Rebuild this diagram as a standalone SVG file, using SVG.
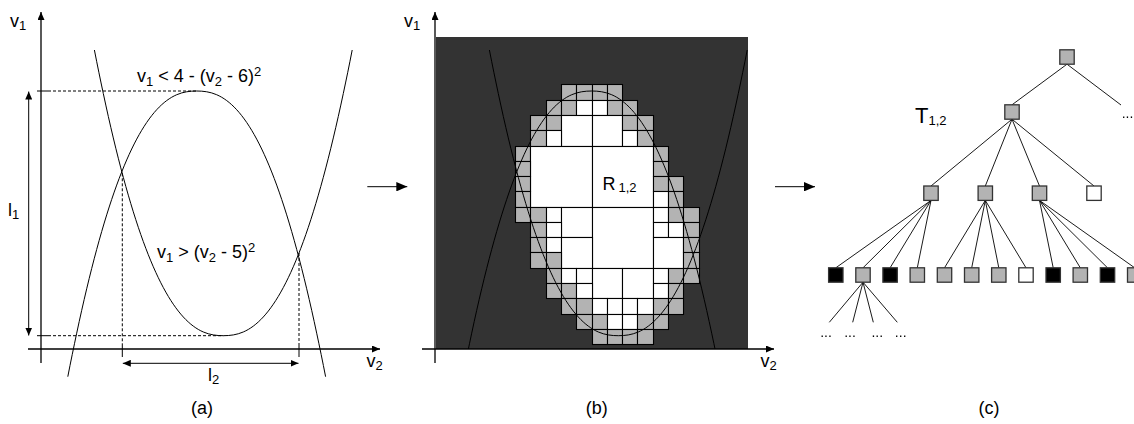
<svg xmlns="http://www.w3.org/2000/svg" width="1134" height="424" viewBox="0 0 1134 424">
<style>
text{font-family:"Liberation Sans",Arial,sans-serif;fill:#000}
.t{font-size:18px}
.sub{font-size:13px}
.cap{font-size:18px;text-anchor:middle}
.dots{font-size:14px;text-anchor:middle}
.ax{stroke:#000;stroke-width:1.3;fill:none}
.cv{stroke:#000;stroke-width:1;fill:none}
.dash{stroke:#000;stroke-width:1;stroke-dasharray:3 2;fill:none}
.ln{stroke:#000;stroke-width:1;fill:none}
.cell{stroke:#000;stroke-width:1.1}
.g{fill:#b3b3b3}
.w{fill:#fff}
.nd{stroke:#333;stroke-width:1.3}
.ng{fill:#b3b3b3}
.nb{fill:#000}
.nw{fill:#fff}
.edge{stroke:#000;stroke-width:0.9;fill:none}
</style>
<defs>
<marker id="ah" viewBox="0 0 8 7" refX="8" refY="3.5" markerWidth="8" markerHeight="7" markerUnits="userSpaceOnUse" orient="auto-start-reverse"><path d="M0,0 L8,3.5 L0,7 z" fill="#000"/></marker>
<marker id="ahb" viewBox="0 0 11 9.4" refX="11" refY="4.7" markerWidth="11" markerHeight="9.4" markerUnits="userSpaceOnUse" orient="auto"><path d="M0,0 L11,4.7 L0,9.4 z" fill="#000"/></marker>
<path id="par" d="M-128.9,285.7 C-125.933,270.38 -122.967,256.153 -120,242.2 C-113.333,210.847 -106.667,183.007 -100,158.4 C-93.333,133.793 -86.667,112.373 -80,94.1 C-73.333,75.827 -66.667,60.6 -60,48.14 C-53.333,35.68 -46.667,25.987 -40,18.72 C-33.333,11.453 -26.667,6.607 -20,3.72 C-13.333,0.833 -6.667,0 0,0 C6.667,0 13.333,0.833 20,3.72 C26.667,6.607 33.333,11.453 40,18.72 C46.667,25.987 53.333,35.68 60,48.14 C66.667,60.6 73.333,75.827 80,94.1 C86.667,112.373 93.333,133.793 100,158.4 C106.667,183.007 113.333,210.847 120,242.2 C122.967,256.153 125.933,270.38 128.9,285.7"/>
<clipPath id="clipB"><rect x="436" y="37" width="312" height="312"/></clipPath>
<filter id="gs"><feColorMatrix type="saturate" values="0"/></filter>
</defs>

<!-- Panel (a) -->
<g id="panel-a">
  <g id="a-dashed">
    <line class="dash" x1="48" y1="91" x2="196.7" y2="91"/>
    <line class="dash" x1="48" y1="335.7" x2="223.3" y2="335.7"/>
    <line class="dash" x1="122.3" y1="173.3" x2="122.3" y2="346"/>
    <line class="dash" x1="299" y1="253" x2="299" y2="346"/>
  </g>
  <g id="a-ticks">
    <line class="ln" x1="37" y1="91" x2="48" y2="91"/>
    <line class="ln" x1="37" y1="335.7" x2="48" y2="335.7"/>
    <line class="ln" x1="122.3" y1="346" x2="122.3" y2="357"/>
    <line class="ln" x1="299" y1="346" x2="299" y2="357"/>
  </g>
  <g id="a-curves">
    <use href="#par" class="cv" transform="translate(196.7 91)"/>
    <use href="#par" class="cv" transform="translate(223.3 335.7) scale(1 -1)"/>
  </g>
  <g id="a-axes">
    <line class="ax" x1="41" y1="363" x2="41" y2="12" marker-end="url(#ah)"/>
    <line class="ax" x1="28" y1="349" x2="380" y2="349" marker-end="url(#ah)"/>
  </g>
  <g id="a-dims">
    <line class="ln" x1="28.7" y1="91.5" x2="28.7" y2="335.5" marker-start="url(#ah)" marker-end="url(#ah)"/>
    <line class="ln" x1="122.8" y1="363.3" x2="298.5" y2="363.3" marker-start="url(#ah)" marker-end="url(#ah)"/>
  </g>
  <g id="a-labels">
    <text class="t" x="10" y="27">v<tspan class="sub" dy="3">1</tspan></text>
    <text class="t" x="366.5" y="367">v<tspan class="sub" dy="3">2</tspan></text>
    <text class="t" x="8" y="216">l<tspan class="sub" dy="3">1</tspan></text>
    <text class="t" x="208" y="381">l<tspan class="sub" dy="3">2</tspan></text>
    <text class="t" x="137" y="82">v<tspan class="sub" dy="4">1</tspan><tspan dy="-4"> &lt; 4 - (v</tspan><tspan class="sub" dy="4">2</tspan><tspan dy="-4"> - 6)</tspan><tspan class="sub" dy="-6">2</tspan></text>
    <text class="t" x="157" y="258">v<tspan class="sub" dy="4">1</tspan><tspan dy="-4"> &gt; (v</tspan><tspan class="sub" dy="4">2</tspan><tspan dy="-4"> - 5)</tspan><tspan class="sub" dy="-6">2</tspan></text>
    <text class="cap" x="202" y="414">(a)</text>
  </g>
</g>

<!-- arrows between panels -->
<g id="connectors">
  <line class="ln" x1="367.3" y1="186.7" x2="407.3" y2="186.7" stroke-width="1.2" marker-end="url(#ahb)"/>
  <line class="ln" x1="775" y1="186.7" x2="815" y2="186.7" stroke-width="1.2" marker-end="url(#ahb)"/>
</g>

<!-- Panel (b) -->
<g id="panel-b">
  <rect id="b-bg" x="436" y="37" width="312" height="312" fill="#333"/>
  <g id="b-grid">
    <!-- row 0 -->
    <rect class="cell g" x="561.5" y="84.5" width="15" height="16"/>
    <rect class="cell g" x="576.5" y="84.5" width="16" height="16"/>
    <rect class="cell g" x="592.5" y="84.5" width="15" height="16"/>
    <rect class="cell g" x="607.5" y="84.5" width="15" height="16"/>
    <!-- row 1 -->
    <rect class="cell g" x="546.5" y="100.5" width="15" height="15"/>
    <rect class="cell g" x="561.5" y="100.5" width="15" height="15"/>
    <rect class="cell w" x="576.5" y="100.5" width="16" height="15"/>
    <rect class="cell w" x="592.5" y="100.5" width="15" height="15"/>
    <rect class="cell g" x="607.5" y="100.5" width="15" height="15"/>
    <rect class="cell g" x="622.5" y="100.5" width="15" height="15"/>
    <!-- row 2 -->
    <rect class="cell g" x="530.5" y="115.5" width="16" height="15"/>
    <rect class="cell g" x="546.5" y="115.5" width="15" height="15"/>
    <rect class="cell w" x="561.5" y="115.5" width="31" height="31"/>
    <rect class="cell w" x="592.5" y="115.5" width="30" height="31"/>
    <rect class="cell g" x="622.5" y="115.5" width="15" height="15"/>
    <rect class="cell g" x="637.5" y="115.5" width="16" height="15"/>
    <!-- row 3 -->
    <rect class="cell g" x="530.5" y="130.5" width="16" height="16"/>
    <rect class="cell w" x="546.5" y="130.5" width="15" height="16"/>
    <rect class="cell w" x="622.5" y="130.5" width="15" height="16"/>
    <rect class="cell g" x="637.5" y="130.5" width="16" height="16"/>
    <!-- row 4 -->
    <rect class="cell g" x="515.5" y="146.5" width="15" height="15"/>
    <rect class="cell w" x="530.5" y="146.5" width="62" height="61"/>
    <rect class="cell w" x="592.5" y="146.5" width="61" height="61"/>
    <rect class="cell g" x="653.5" y="146.5" width="15" height="15"/>
    <!-- row 5 -->
    <rect class="cell g" x="515.5" y="161.5" width="15" height="15"/>
    <rect class="cell g" x="653.5" y="161.5" width="15" height="15"/>
    <!-- row 6 -->
    <rect class="cell g" x="515.5" y="176.5" width="15" height="15"/>
    <rect class="cell g" x="653.5" y="176.5" width="15" height="15"/>
    <rect class="cell g" x="668.5" y="176.5" width="15" height="15"/>
    <!-- row 7 -->
    <rect class="cell g" x="515.5" y="191.5" width="15" height="16"/>
    <rect class="cell w" x="653.5" y="191.5" width="15" height="16"/>
    <rect class="cell g" x="668.5" y="191.5" width="15" height="16"/>
    <!-- row 8 -->
    <rect class="cell g" x="515.5" y="207.5" width="15" height="15"/>
    <rect class="cell g" x="530.5" y="207.5" width="16" height="15"/>
    <rect class="cell w" x="546.5" y="207.5" width="15" height="15"/>
    <rect class="cell w" x="561.5" y="207.5" width="31" height="30"/>
    <rect class="cell w" x="592.5" y="207.5" width="61" height="61"/>
    <rect class="cell w" x="653.5" y="207.5" width="15" height="15"/>
    <rect class="cell g" x="668.5" y="207.5" width="15" height="15"/>
    <rect class="cell g" x="683.5" y="207.5" width="16" height="15"/>
    <!-- row 9 -->
    <rect class="cell g" x="530.5" y="222.5" width="16" height="15"/>
    <rect class="cell w" x="546.5" y="222.5" width="15" height="15"/>
    <rect class="cell w" x="653.5" y="222.5" width="15" height="15"/>
    <rect class="cell w" x="668.5" y="222.5" width="15" height="15"/>
    <rect class="cell g" x="683.5" y="222.5" width="16" height="15"/>
    <!-- row 10 -->
    <rect class="cell g" x="530.5" y="237.5" width="16" height="15"/>
    <rect class="cell w" x="546.5" y="237.5" width="15" height="15"/>
    <rect class="cell w" x="561.5" y="237.5" width="31" height="31"/>
    <rect class="cell w" x="653.5" y="237.5" width="30" height="31"/>
    <rect class="cell g" x="683.5" y="237.5" width="16" height="15"/>
    <!-- row 11 -->
    <rect class="cell g" x="530.5" y="252.5" width="16" height="16"/>
    <rect class="cell g" x="546.5" y="252.5" width="15" height="16"/>
    <rect class="cell g" x="683.5" y="252.5" width="16" height="16"/>
    <!-- row 12 -->
    <rect class="cell g" x="546.5" y="268.5" width="15" height="15"/>
    <rect class="cell w" x="561.5" y="268.5" width="15" height="15"/>
    <rect class="cell w" x="576.5" y="268.5" width="16" height="15"/>
    <rect class="cell w" x="592.5" y="268.5" width="30" height="30"/>
    <rect class="cell w" x="622.5" y="268.5" width="31" height="30"/>
    <rect class="cell w" x="653.5" y="268.5" width="15" height="15"/>
    <rect class="cell g" x="668.5" y="268.5" width="15" height="15"/>
    <rect class="cell g" x="683.5" y="268.5" width="16" height="15"/>
    <!-- row 13 -->
    <rect class="cell g" x="546.5" y="283.5" width="15" height="15"/>
    <rect class="cell g" x="561.5" y="283.5" width="15" height="15"/>
    <rect class="cell w" x="576.5" y="283.5" width="16" height="15"/>
    <rect class="cell w" x="653.5" y="283.5" width="15" height="15"/>
    <rect class="cell g" x="668.5" y="283.5" width="15" height="15"/>
    <!-- row 14 -->
    <rect class="cell g" x="561.5" y="298.5" width="15" height="16"/>
    <rect class="cell g" x="576.5" y="298.5" width="16" height="16"/>
    <rect class="cell w" x="592.5" y="298.5" width="15" height="16"/>
    <rect class="cell w" x="607.5" y="298.5" width="15" height="16"/>
    <rect class="cell w" x="622.5" y="298.5" width="15" height="16"/>
    <rect class="cell w" x="637.5" y="298.5" width="16" height="16"/>
    <rect class="cell g" x="653.5" y="298.5" width="15" height="16"/>
    <rect class="cell g" x="668.5" y="298.5" width="15" height="16"/>
    <!-- row 15 -->
    <rect class="cell g" x="576.5" y="314.5" width="16" height="15"/>
    <rect class="cell g" x="592.5" y="314.5" width="15" height="15"/>
    <rect class="cell w" x="607.5" y="314.5" width="15" height="15"/>
    <rect class="cell w" x="622.5" y="314.5" width="15" height="15"/>
    <rect class="cell g" x="637.5" y="314.5" width="16" height="15"/>
    <rect class="cell g" x="653.5" y="314.5" width="15" height="15"/>
    <!-- row 16 -->
    <rect class="cell g" x="592.5" y="329.5" width="15" height="15"/>
    <rect class="cell g" x="607.5" y="329.5" width="15" height="15"/>
    <rect class="cell g" x="622.5" y="329.5" width="15" height="15"/>
    <rect class="cell g" x="637.5" y="329.5" width="16" height="15"/>
  </g>
  <g id="b-curves" clip-path="url(#clipB)">
    <use href="#par" class="cv" transform="translate(591.7 91)"/>
    <use href="#par" class="cv" transform="translate(618.3 335.7) scale(1 -1)"/>
  </g>
  <g id="b-axes">
    <line class="ax" x1="435" y1="363" x2="435" y2="12" marker-end="url(#ah)"/>
    <line class="ax" x1="422" y1="349" x2="774" y2="349" marker-end="url(#ah)"/>
  </g>
  <g id="b-labels">
    <text class="t" x="404" y="27">v<tspan class="sub" dy="3">1</tspan></text>
    <text class="t" x="760.5" y="367">v<tspan class="sub" dy="3">2</tspan></text>
    <text class="t" x="602.5" y="190">R<tspan class="sub" dx="3" dy="2">1,2</tspan></text>
    <text class="cap" x="596.7" y="414">(b)</text>
  </g>
</g>

<!-- Panel (c) tree -->
<g id="panel-c">
  <g id="tree-edges">
    <line class="edge" x1="1067" y1="64.2" x2="1012" y2="104.8"/>
    <line class="edge" x1="1067" y1="64.2" x2="1121" y2="105"/>
    <line class="edge" x1="1012" y1="119.2" x2="931" y2="186"/>
    <line class="edge" x1="1012" y1="119.2" x2="985.3" y2="186"/>
    <line class="edge" x1="1012" y1="119.2" x2="1039.5" y2="186"/>
    <line class="edge" x1="1012" y1="119.2" x2="1094" y2="186"/>
    <line class="edge" x1="931" y1="200.4" x2="835.8" y2="267.8"/>
    <line class="edge" x1="931" y1="200.4" x2="863" y2="267.8"/>
    <line class="edge" x1="931" y1="200.4" x2="890.1" y2="267.8"/>
    <line class="edge" x1="931" y1="200.4" x2="917.3" y2="267.8"/>
    <line class="edge" x1="985.3" y1="200.4" x2="944.5" y2="267.8"/>
    <line class="edge" x1="985.3" y1="200.4" x2="971.7" y2="267.8"/>
    <line class="edge" x1="985.3" y1="200.4" x2="998.8" y2="267.8"/>
    <line class="edge" x1="985.3" y1="200.4" x2="1026" y2="267.8"/>
    <line class="edge" x1="1039.5" y1="200.4" x2="1053.2" y2="267.8"/>
    <line class="edge" x1="1039.5" y1="200.4" x2="1080.3" y2="267.8"/>
    <line class="edge" x1="1039.5" y1="200.4" x2="1107.5" y2="267.8"/>
    <line class="edge" x1="1039.5" y1="200.4" x2="1134.7" y2="267.8"/>
    <line class="edge" x1="863" y1="282.2" x2="829.3" y2="322.3"/>
    <line class="edge" x1="863" y1="282.2" x2="852.7" y2="322.3"/>
    <line class="edge" x1="863" y1="282.2" x2="873.3" y2="322.3"/>
    <line class="edge" x1="863" y1="282.2" x2="897.3" y2="322.3"/>
  </g>
  <g id="n-root"><rect class="nd ng" x="1059.8" y="49.8" width="14.4" height="14.4"/></g>
  <g id="n-T12"><rect class="nd ng" x="1004.8" y="104.8" width="14.4" height="14.4"/></g>
  <g id="n-2a"><rect class="nd ng" x="923.8" y="186" width="14.4" height="14.4"/></g>
  <g id="n-2b"><rect class="nd ng" x="978.1" y="186" width="14.4" height="14.4"/></g>
  <g id="n-2c"><rect class="nd ng" x="1032.3" y="186" width="14.4" height="14.4"/></g>
  <g id="n-2d"><rect class="nd nw" x="1086.8" y="186" width="14.4" height="14.4"/></g>
  <g id="n-3-1"><rect class="nd nb" x="828.6" y="267.8" width="14.4" height="14.4"/></g>
  <g id="n-3-2"><rect class="nd ng" x="855.8" y="267.8" width="14.4" height="14.4"/></g>
  <g id="n-3-3"><rect class="nd nb" x="882.9" y="267.8" width="14.4" height="14.4"/></g>
  <g id="n-3-4"><rect class="nd ng" x="910.1" y="267.8" width="14.4" height="14.4"/></g>
  <g id="n-3-5"><rect class="nd ng" x="937.3" y="267.8" width="14.4" height="14.4"/></g>
  <g id="n-3-6"><rect class="nd ng" x="964.5" y="267.8" width="14.4" height="14.4"/></g>
  <g id="n-3-7"><rect class="nd ng" x="991.6" y="267.8" width="14.4" height="14.4"/></g>
  <g id="n-3-8"><rect class="nd nw" x="1018.8" y="267.8" width="14.4" height="14.4"/></g>
  <g id="n-3-9"><rect class="nd nb" x="1046" y="267.8" width="14.4" height="14.4"/></g>
  <g id="n-3-10"><rect class="nd ng" x="1073.1" y="267.8" width="14.4" height="14.4"/></g>
  <g id="n-3-11"><rect class="nd nb" x="1100.3" y="267.8" width="14.4" height="14.4"/></g>
  <g id="n-3-12"><rect class="nd ng" x="1127.5" y="267.8" width="14.4" height="14.4"/></g>
  <g id="c-labels">
    <text x="915" y="123" font-size="22px">T<tspan class="sub" dy="2">1,2</tspan></text>
    <g filter="url(#gs)">
      <text class="dots" x="1127.5" y="118">...</text>
      <text class="dots" x="826" y="337">...</text>
      <text class="dots" x="850" y="337">...</text>
      <text class="dots" x="877.3" y="337">...</text>
      <text class="dots" x="900.7" y="337">...</text>
    </g>
    <text class="cap" x="989" y="414">(c)</text>
  </g>
</g>
</svg>
